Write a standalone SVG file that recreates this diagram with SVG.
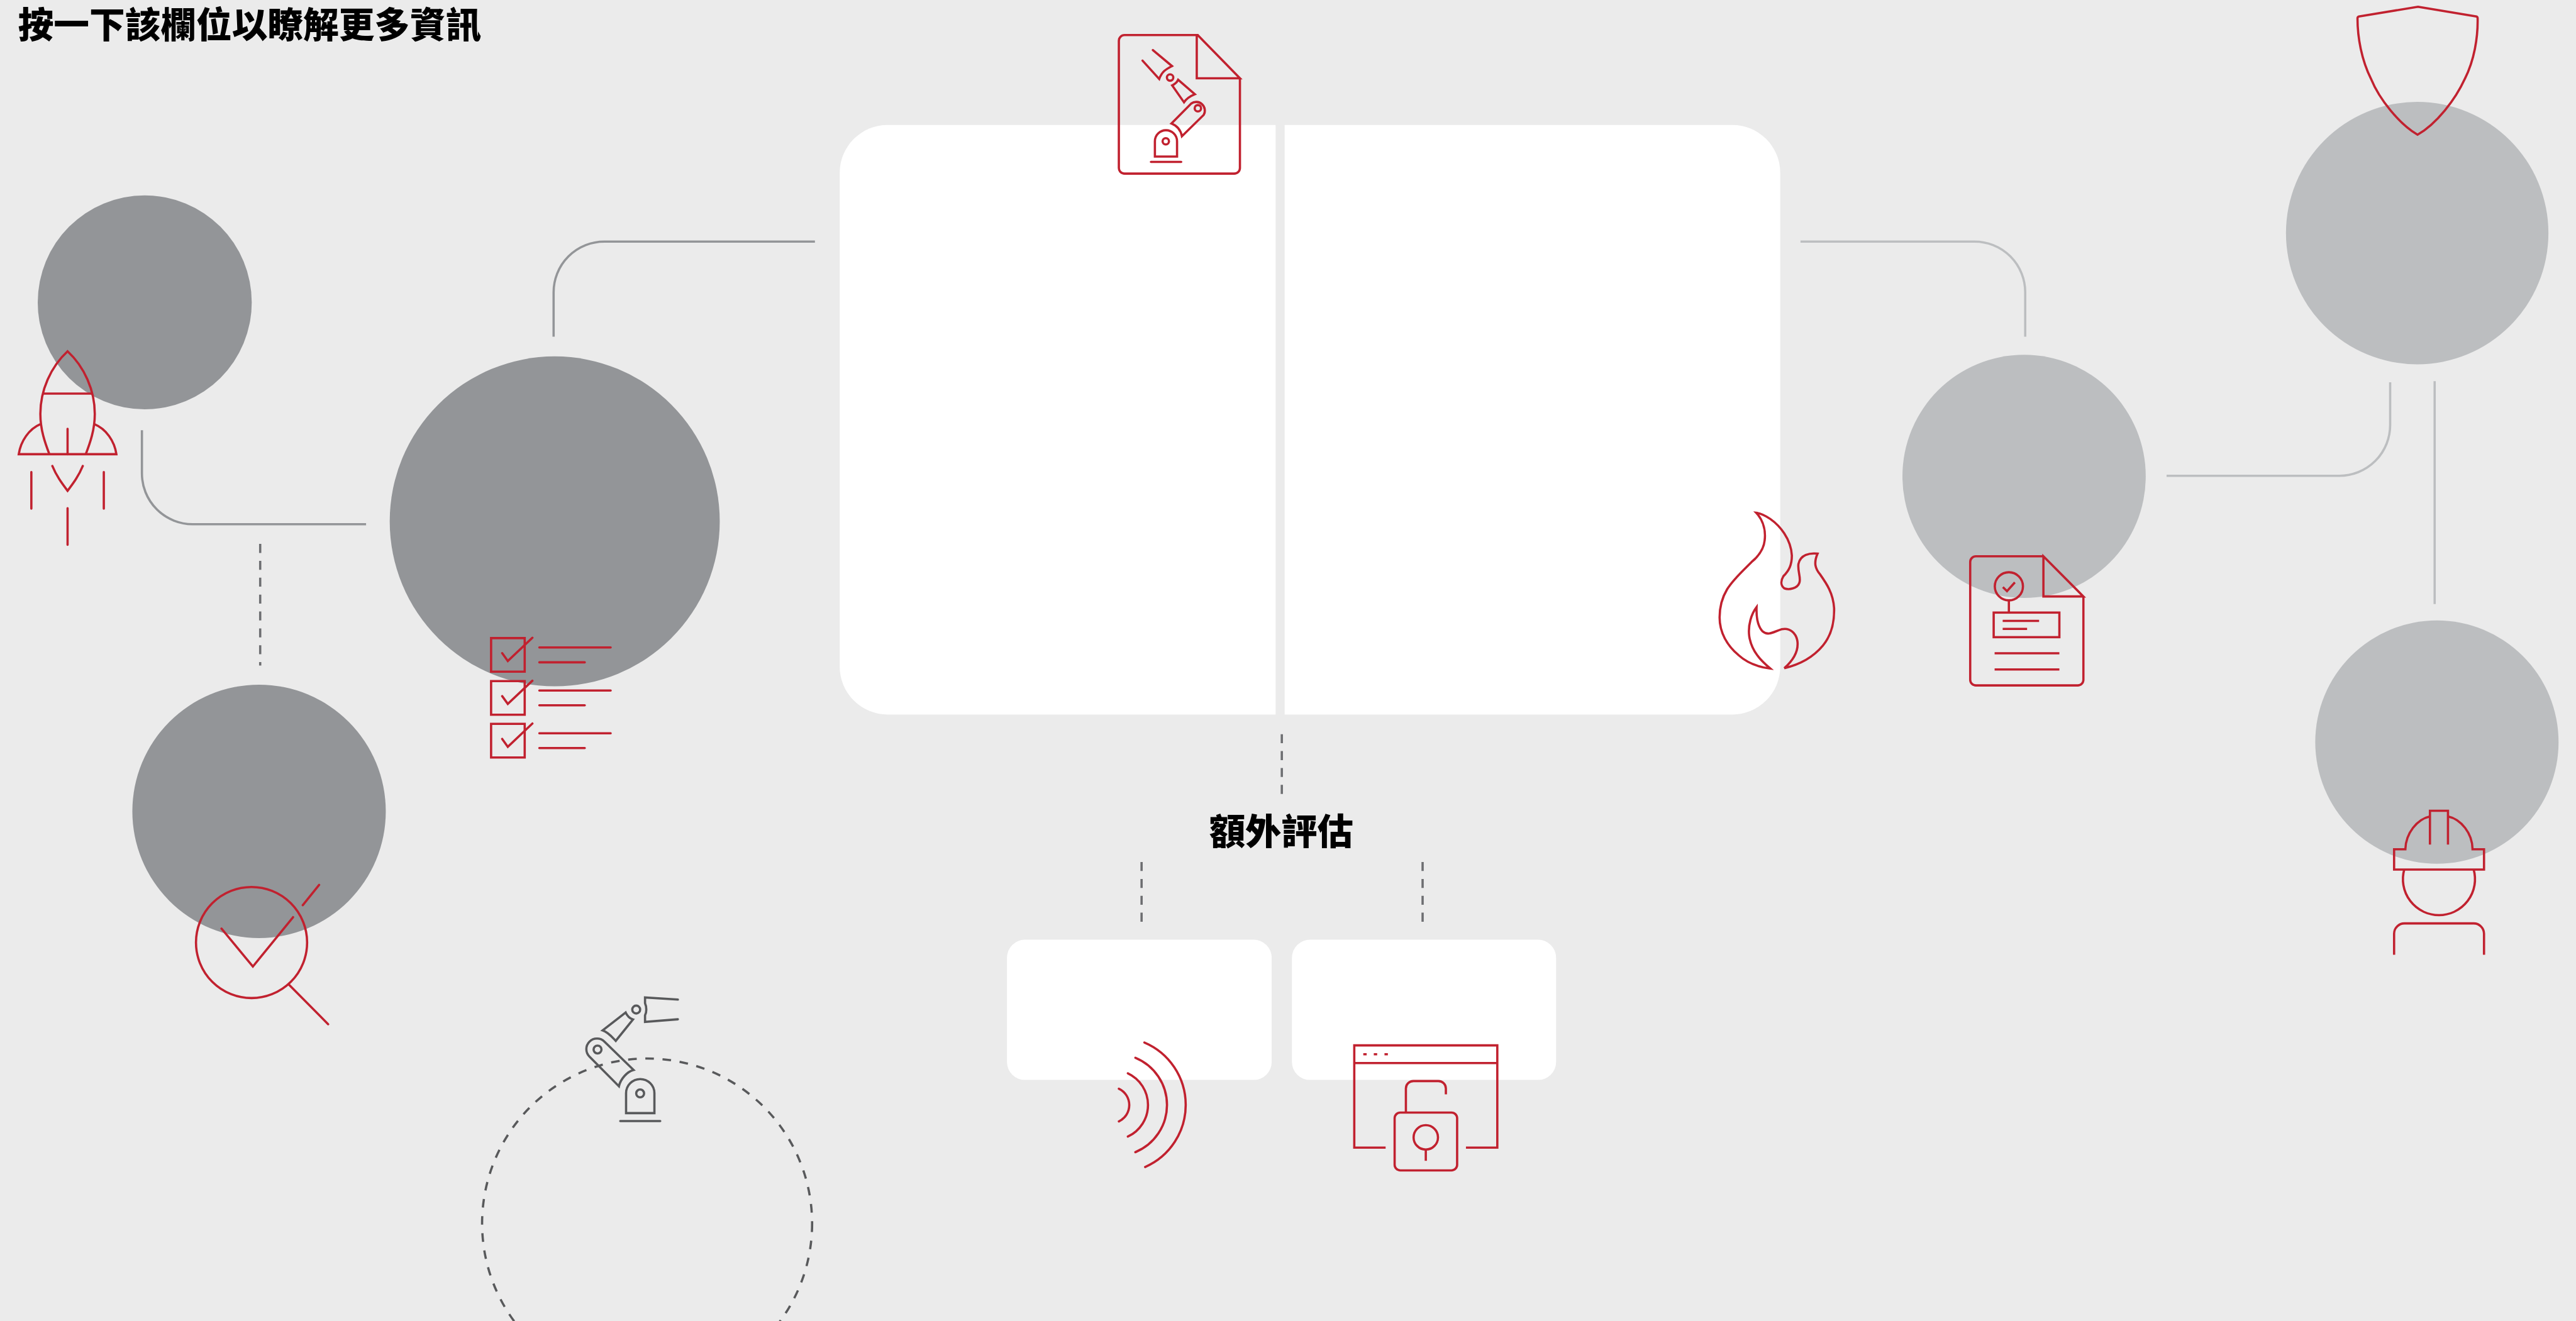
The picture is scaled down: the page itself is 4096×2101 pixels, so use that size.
<svg xmlns="http://www.w3.org/2000/svg" width="4096" height="2101" viewBox="0 0 4096 2101">
<style>
.bg{fill:#ebebeb}
.panel{fill:#fff}
.dark{fill:#939598}
.light{fill:#bcbec0}
.ic{fill:none;stroke:#c1212f;stroke-width:12;stroke-linejoin:miter}
.rc{stroke-linecap:round}
.gr{fill:none;stroke:#58595b;stroke-width:12}
.cd{fill:none;stroke:#939598;stroke-width:4}
.cl{fill:none;stroke:#bcbec0;stroke-width:4}
.dash{fill:none;stroke:#6d6e71;stroke-width:4;stroke-dasharray:16 14}
.t{font-family:"Noto Sans CJK TC","Liberation Sans",sans-serif;font-weight:900;fill:#000}
</style>
<rect class="bg" width="4096" height="2101"/>
<g transform="scale(.8955)">
<g id="title"><text class="t" x="32" y="67" font-size="63.300">按一下該欄位以瞭解更多資訊</text></g>
<g id="connectors">
<path class="cd" d="M983 598V519a90 90 0 0 1 90-90H1447"/>
<path class="cd" d="M252 764V841a90 90 0 0 0 90 90H650"/>
<path class="dash" d="M462 966V1182"/>
<path class="cl" d="M3197 429H3506a90 90 0 0 1 90 90V598"/>
<path class="cl" d="M3847 845H4154a90 90 0 0 0 90-90V679"/>
<path class="cl" d="M4323 677V1073"/>
<path class="dash" d="M2276 1304V1415"/>
<path class="dash" d="M2027 1531V1642"/>
<path class="dash" d="M2526 1531V1642"/>
</g>
<g id="panel-left"><path class="panel" d="M1576 222H2265V1269H1576a85 85 0 0 1-85-85V307a85 85 0 0 1 85-85Z"/></g>
<g id="panel-right"><path class="panel" d="M2281 222H3076a85 85 0 0 1 85 85V1184a85 85 0 0 1-85 85H2281Z"/></g>
<g id="doc-robot"><g transform="translate(1900 30) scale(.3333)" class="ic rc">
<path d="M680 97H290a30 30 0 0 0-30 30V805a30 30 0 0 0 30 30H875a30 30 0 0 0 30-30V327"/>
<path d="M680 97L905 327H675V97"/>
<path d="M441 177L543 262C510 280 490 290 475 331L386 233"/>
<circle cx="533" cy="323" r="17"/>
<path d="M576 335L665 412C640 422 620 435 607 455L544 365C560 358 570 348 576 335Z"/>
<path d="M540 568L645 462A46 46 0 0 1 712 522L596 636C590 605 570 580 540 568Z"/>
<circle cx="681" cy="487" r="17"/>
<path d="M452 744V663A59 59 0 0 1 570 663V744Z"/>
<circle cx="510" cy="663" r="17"/>
<path d="M431 773H592"/>
</g></g>
<g id="node-rocket"><circle class="dark" cx="257" cy="537" r="190"/><g transform="translate(0 580) scale(.3333)" class="ic">
<path d="M215 520C155 545 110 610 100 680H620C610 610 565 545 503 520"/>
<path d="M263 680C240 620 215 550 215 465C215 340 270 215 360 132C450 215 505 340 505 465C505 550 480 620 457 680"/>
<path d="M230 357H490"/><path d="M360 545V680" class="rc"/>
<path class="rc" d="M279 743C300 795 330 835 360 875C390 835 420 795 441 743"/>
<path class="rc" d="M167 775V970M553 775V970M360 968V1163"/>
</g></g>
<g id="node-checklist"><circle class="dark" cx="985" cy="926" r="293"/><g transform="translate(840 1100) scale(.3333)" class="ic rc">
<path stroke-linecap="butt" d="M96 100H275V279H96ZM96 329H275V508H96ZM96 557H275V736H96Z"/>
<path d="M155 180L185 222L316 98M155 409L185 451L316 327M155 637L185 679L316 555"/>
<path d="M353 150H733M353 229H595M353 379H733M353 458H595M353 607H733M353 686H595"/>
</g></g>
<g id="node-inspect"><circle class="dark" cx="460" cy="1441" r="225"/><g transform="translate(320 1530) scale(.3333)" class="ic rc">
<circle cx="380" cy="432" r="296"/>
<path d="M220 358L387 560L601 297M653 233L740 125M580 657L788 867"/>
</g></g>
<g id="node-robot">
<circle cx="1149" cy="2173" r="293" fill="none" stroke="#58595b" stroke-width="4" stroke-dasharray="15.3 15.3"/>
<g transform="translate(1000 1740) scale(.3333)" class="gr">
<path d="M611 106L436 95V125C445 145 445 175 436 190V225L611 211" stroke-linecap="round"/>
<circle cx="389" cy="159" r="21"/>
<path d="M333 175C340 190 350 205 372 212L280 326C260 305 240 280 210 270Z"/>
<path d="M375 481C340 490 305 530 297 568L140 410A52 52 0 0 1 220 330Z"/>
<circle cx="183" cy="372" r="21"/>
<path d="M335 711V605A75.500 75.500 0 0 1 486 605V711Z"/>
<circle cx="410" cy="606" r="21"/>
<path d="M304 753H517" stroke-linecap="round"/>
</g></g>
<g id="label"><text class="t" x="2275" y="1500" font-size="64" text-anchor="middle">額外評估</text></g>
<g id="box-signal"><rect class="panel" x="1788" y="1669" width="470" height="249" rx="32"/><g transform="translate(1950 1820) scale(.3333)" class="ic rc">
<path d="M110 341A96 96 0 0 1 110 515M158 259A186 186 0 0 1 158 596M198 176A272 272 0 0 1 198 679M246 95A361 361 0 0 1 250 758"/>
</g></g>
<g id="box-lock"><rect class="panel" x="2294" y="1669" width="469" height="249" rx="32"/><g transform="translate(2380 1830) scale(.3333)" class="ic">
<path d="M241 625H74V80H836V625H669M74 174H836"/>
<path d="M122 127H140M178 127H196M235 127H253"/>
<rect x="289" y="438" width="333" height="308" rx="30"/>
<path d="M349 438V310a40 40 0 0 1 40-40H522a40 40 0 0 1 40 40V341"/>
<circle cx="455" cy="570" r="65"/><path d="M455 635V695"/>
</g></g>
<g id="flame"><g transform="translate(3020 890) scale(.3333)" class="ic">
<path d="M295 62C340 110 345 170 340 210C335 260 300 300 270 325C220 375 170 420 140 470C110 520 100 570 100 620C100 700 140 770 200 820C250 865 310 885 370 892C320 850 270 800 258 720C250 660 270 600 297 565C295 620 305 670 330 695C360 720 390 695 430 683C475 672 510 705 515 750C520 800 490 850 445 890C530 870 600 830 650 770C700 710 712 640 710 570C705 490 670 440 635 390C610 360 600 330 622 280C580 275 530 285 520 335C515 375 535 410 525 435C515 465 470 475 445 465C425 450 425 425 440 400C470 370 485 340 485 290C480 200 420 130 370 95C345 78 320 65 295 62Z"/>
</g></g>
<g id="node-doc"><circle class="light" cx="3594" cy="846" r="216"/><g transform="translate(3470 970) scale(.3333)" class="ic">
<path d="M475 54H115a30 30 0 0 0-30 30V712a30 30 0 0 0 30 30H658a30 30 0 0 0 30-30V268"/>
<path d="M475 54L688 268H475Z"/>
<circle cx="291" cy="214" r="75"/>
<path d="M259 218L281 240L323 193M291 290V354"/>
<rect x="210" y="354" width="350" height="131"/>
<path d="M258 398H452M258 441H388M215 571H560M215 657H560"/>
</g></g>
<g id="node-shield"><circle class="light" cx="4292" cy="414" r="233"/><g transform="translate(4160 0) scale(.3333)" class="ic">
<path d="M400 36L712 88Q718 90 718 98C720 200 700 320 650 420C600 530 500 660 398 718C300 660 195 530 150 420C100 320 78 200 78 98Q78 90 85 88Z"/>
</g></g>
<g id="node-worker"><circle class="light" cx="4327" cy="1318" r="216"/><g transform="translate(4220 1420) scale(.3333)" class="ic">
<path d="M284 90C215 105 155 180 153 265H93V373H572V265H511C510 180 450 105 380 90"/>
<path d="M284 240V60H380V240"/>
<path d="M147 373A192 192 0 1 0 517 373"/>
<path d="M93 827V715a55 55 0 0 1 55-55H517a55 55 0 0 1 55 55V827"/>
</g></g>
</g>
</svg>
